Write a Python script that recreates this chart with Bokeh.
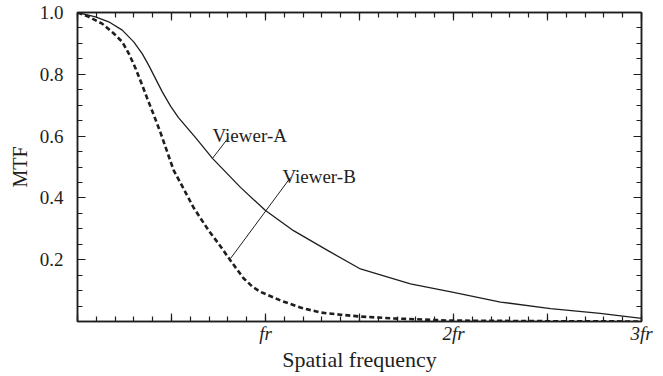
from bokeh.plotting import figure
from bokeh.models import (Range1d, FixedTicker, LinearAxis, Label, ColumnDataSource,
                          CustomLabelingPolicy)
from bokeh.embed import file_html
from bokeh.resources import INLINE

# Spatial frequency in units of fr
viewer_a_x = [0.0, 0.096, 0.166, 0.238, 0.299, 0.344, 0.379, 0.415, 0.451, 0.495, 0.537,
              0.628, 0.718, 0.867, 1.0, 1.149, 1.330, 1.505, 1.771, 2.0, 2.25, 2.516,
              2.78, 3.0]
viewer_a_y = [1.0, 0.986, 0.970, 0.943, 0.905, 0.867, 0.829, 0.786, 0.743, 0.697, 0.660,
              0.595, 0.528, 0.434, 0.359, 0.294, 0.230, 0.170, 0.122, 0.094, 0.063, 0.042,
              0.026, 0.010]
viewer_b_x = [0.0, 0.060, 0.131, 0.193, 0.238, 0.273, 0.309, 0.344, 0.371, 0.406, 0.441,
              0.511, 0.564, 0.617, 0.697, 0.761, 0.814, 0.883, 0.930, 0.973, 1.080, 1.186,
              1.293, 1.399, 1.505, 1.681, 1.98, 2.5, 3.0]
viewer_b_y = [1.0, 0.986, 0.964, 0.932, 0.905, 0.867, 0.819, 0.765, 0.722, 0.668, 0.612,
              0.490, 0.430, 0.369, 0.295, 0.243, 0.197, 0.140, 0.113, 0.096, 0.068, 0.045,
              0.029, 0.022, 0.016, 0.010, 0.003, 0.001, 0.0]

x_major_ticks = [0, 0.5, 1, 1.5, 2, 2.5, 3]
x_tick_labels = {0: "", 0.5: "", 1: "fr", 1.5: "", 2: "2fr", 2.5: "", 3: "3fr"}
x_minor_ticks = [i / 10 for i in range(0, 31)]
y_major_ticks = [0.2, 0.4, 0.6, 0.8, 1.0]
y_tick_labels = {0.2: "0.2", 0.4: "0.4", 0.6: "0.6", 0.8: "0.8", 1.0: "1.0"}
y_minor_ticks = [i / 20 for i in range(0, 21)]

FONT = "Liberation Serif"
INK = "#1e1e1e"

p = figure(frame_width=564, frame_height=309, width=663, height=376,
           x_range=Range1d(0, 3), y_range=Range1d(0, 1),
           output_backend="svg", toolbar_location=None,
           min_border_left=77, min_border_right=22, min_border_top=12, min_border_bottom=55)
p.xgrid.visible = False
p.ygrid.visible = False
p.outline_line_color = INK
p.outline_line_width = 1.5
p.background_fill_color = "white"
p.border_fill_color = "white"

def style(ax):
    ax.axis_line_color = INK
    ax.axis_line_width = 1.5
    ax.major_tick_in = 8
    ax.major_tick_out = 0
    ax.minor_tick_in = 5
    ax.minor_tick_out = 0
    ax.major_tick_line_color = INK
    ax.minor_tick_line_color = INK
    ax.major_tick_line_width = 1.2
    ax.minor_tick_line_width = 1.2

bx = p.xaxis[0]
bx.ticker = FixedTicker(ticks=x_major_ticks, minor_ticks=x_minor_ticks)
bx.major_label_overrides = x_tick_labels
bx.major_label_policy = CustomLabelingPolicy(code="return [2, 4, 6]")
bx.major_label_text_font = FONT
bx.major_label_text_font_style = "italic"
bx.major_label_text_font_size = "19px"
bx.major_label_text_color = INK
bx.major_label_standoff = 1
bx.axis_label = "Spatial frequency"
bx.axis_label_text_font = FONT
bx.axis_label_text_font_style = "normal"
bx.axis_label_text_font_size = "22px"
bx.axis_label_text_color = INK
bx.axis_label_standoff = 0
style(bx)

ly = p.yaxis[0]
ly.ticker = FixedTicker(ticks=y_major_ticks, minor_ticks=y_minor_ticks)
ly.major_label_overrides = y_tick_labels
ly.major_label_text_font = FONT
ly.major_label_text_font_size = "19px"
ly.major_label_text_color = INK
ly.major_label_standoff = 14
ly.axis_label = "MTF"
ly.axis_label_text_font = FONT
ly.axis_label_text_font_style = "normal"
ly.axis_label_text_font_size = "20px"
ly.axis_label_text_color = INK
ly.axis_label_standoff = 6
style(ly)

tx = LinearAxis(ticker=FixedTicker(ticks=x_major_ticks, minor_ticks=x_minor_ticks),
                major_label_policy=CustomLabelingPolicy(code="return []"),
                major_label_text_font_size="8px", major_label_standoff=0)
style(tx)
p.add_layout(tx, "above")
ry = LinearAxis(ticker=FixedTicker(ticks=y_major_ticks, minor_ticks=y_minor_ticks),
                major_label_policy=CustomLabelingPolicy(code="return []"),
                major_label_text_font_size="8px", major_label_standoff=0)
style(ry)
p.add_layout(ry, "right")

p.line(viewer_a_x, viewer_a_y, line_color=INK, line_width=1.3, line_join="round")
p.line(viewer_b_x, viewer_b_y, line_color=INK, line_width=2.6, line_dash="5 3")

# Leader lines for curve labels
leaders = ColumnDataSource(dict(x0=[0.803, 1.133], y0=[0.595, 0.466],
                                x1=[0.718, 0.814], y1=[0.528, 0.204]))
p.segment(x0="x0", y0="y0", x1="x1", y1="y1", source=leaders, line_color=INK, line_width=1.0)

p.add_layout(Label(x=0.718, y=0.602, text="Viewer-A", text_font=FONT, text_font_size="19px",
                   text_color=INK, text_baseline="alphabetic"))
p.add_layout(Label(x=1.09, y=0.469, text="Viewer-B", text_font=FONT, text_font_size="19px",
                   text_color=INK, text_baseline="alphabetic"))
p.add_layout(Label(x=0, y=0, text="0", text_font=FONT, text_font_size="19px", text_color=INK,
                   text_align="right", text_baseline="middle", x_offset=-14, y_offset=-11))

open("out.html", "w").write(file_html(p, INLINE))
